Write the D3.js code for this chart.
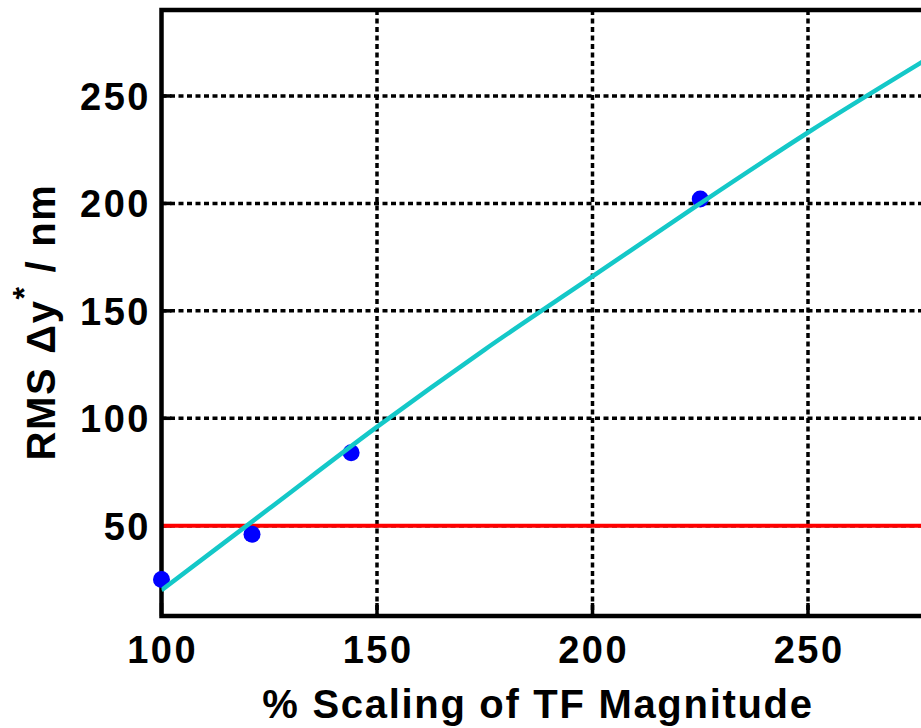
<!DOCTYPE html>
<html>
<head>
<meta charset="utf-8">
<script src="https://cdn.jsdelivr.net/npm/d3@7"></script>
<style>
  html, body { margin: 0; padding: 0; background: #fff; overflow: hidden; }
  svg text { font-family: "Liberation Sans", Arial, Helvetica, sans-serif; font-weight: bold; fill: #000; }
</style>
</head>
<body>
<svg id="chart" width="921" height="728"></svg>
<script>
// Measured RMS offset vs. scaling of the transfer-function magnitude
const scalingPct = [100, 121, 144, 225];
const rmsDy = [25, 46, 84, 202];

// Fitted trend curve
const fitScaling = [100, 125, 150, 175, 200, 225, 250, 275, 300];
const fitRms = [20, 58, 96, 132, 166, 200, 233, 264, 294];

// Tolerance level (nm)
const thresholdNm = 50;

const xTicks = [100, 150, 200, 250];
const yTicks = [50, 100, 150, 200, 250];
const xDomain = [100, 300];
const yDomain = [8, 290];

const svg = d3.select("#chart");
const plot = { left: 161.5, right: 1023.5, top: 10, bottom: 616 };

const x = d3.scaleLinear().domain(xDomain).range([plot.left, plot.right]);
const y = d3.scaleLinear().domain(yDomain).range([plot.bottom, plot.top]);

svg.append("defs").append("clipPath").attr("id", "plotClip")
  .append("rect")
  .attr("x", plot.left).attr("y", plot.top)
  .attr("width", plot.right - plot.left).attr("height", plot.bottom - plot.top);

// Dotted grid
const grid = svg.append("g").attr("stroke", "#000").attr("stroke-width", 3.5)
  .attr("stroke-dasharray", "5,3.5");
grid.selectAll("line.v").data(xTicks.filter(d => d > xDomain[0])).join("line")
  .attr("class", "v")
  .attr("x1", d => x(d)).attr("x2", d => x(d))
  .attr("y1", plot.top).attr("y2", plot.bottom);
grid.selectAll("line.h").data(yTicks).join("line")
  .attr("class", "h")
  .attr("x1", plot.left).attr("x2", plot.right)
  .attr("y1", d => y(d)).attr("y2", d => y(d));

// Inward tick marks on the bottom and left axes
const ticks = svg.append("g").attr("stroke", "#000").attr("stroke-width", 3.5);
ticks.selectAll("line.bt").data(xTicks).join("line")
  .attr("class", "bt")
  .attr("x1", d => x(d)).attr("x2", d => x(d))
  .attr("y1", plot.bottom).attr("y2", plot.bottom - 13);
ticks.selectAll("line.lt").data(yTicks).join("line")
  .attr("class", "lt")
  .attr("x1", plot.left).attr("x2", plot.left + 10)
  .attr("y1", d => y(d)).attr("y2", d => y(d));

// Threshold line
svg.append("line")
  .attr("x1", x(xDomain[0])).attr("x2", x(xDomain[1]))
  .attr("y1", y(thresholdNm)).attr("y2", y(thresholdNm))
  .attr("stroke", "#ff0000").attr("stroke-width", 4);

// Frame
svg.append("path")
  .attr("d", `M${plot.right},${plot.top}H${plot.left}V${plot.bottom}H${plot.right}`)
  .attr("fill", "none").attr("stroke", "#000").attr("stroke-width", 4.5);

// Data points (drawn over the frame)
const pts = scalingPct.map((s, i) => ({ s, v: rmsDy[i] }));
svg.append("g")
  .selectAll("circle").data(pts).join("circle")
  .attr("cx", d => x(d.s)).attr("cy", d => y(d.v)).attr("r", 8.5)
  .attr("fill", "#0000ff");

// Trend curve
const fit = fitScaling.map((s, i) => ({ s, v: fitRms[i] }));
svg.append("path")
  .datum(fit)
  .attr("clip-path", "url(#plotClip)")
  .attr("fill", "none")
  .attr("stroke", "#14c8c8")
  .attr("stroke-width", 4.5)
  .attr("d", d3.line().x(d => x(d.s)).y(d => y(d.v)).curve(d3.curveMonotoneX));

// Tick labels
svg.append("g").selectAll("text").data(xTicks).join("text")
  .attr("x", d => x(d) + 1.2).attr("y", 663)
  .attr("text-anchor", "middle")
  .style("font-size", "38px").style("letter-spacing", "2.5px")
  .text(d => d);
svg.append("g").selectAll("text").data(yTicks).join("text")
  .attr("x", 151).attr("y", d => y(d) + 14)
  .attr("text-anchor", "end")
  .style("font-size", "38px").style("letter-spacing", "2.5px")
  .text(d => d);

// Axis titles
svg.append("text")
  .attr("x", 538).attr("y", 718)
  .attr("text-anchor", "middle")
  .style("font-size", "40px").style("letter-spacing", "1.7px")
  .text("% Scaling of TF Magnitude");

const yTitle = svg.append("text")
  .attr("transform", "translate(55,322) rotate(-90)")
  .attr("text-anchor", "middle")
  .style("font-size", "40px").style("letter-spacing", "1.7px");
yTitle.append("tspan").text("RMS \u0394y");
yTitle.append("tspan").attr("dy", -20).style("font-size", "32px").text("*");
yTitle.append("tspan").attr("dy", 20).text(" / nm");
</script>
</body>
</html>
